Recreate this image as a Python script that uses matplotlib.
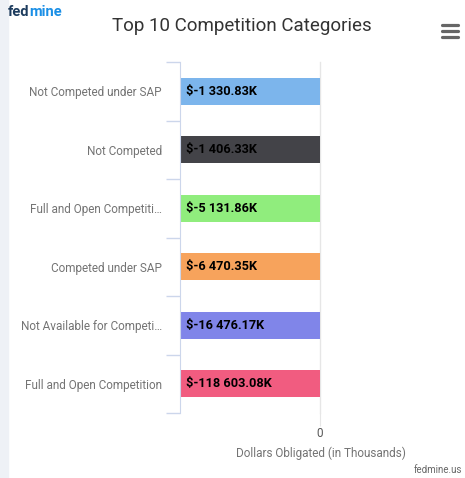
import numpy as np
import matplotlib.pyplot as plt
from matplotlib.patches import Rectangle
from matplotlib.transforms import offset_copy

plt.rcParams['font.family'] = ['Roboto', 'DejaVu Sans']

categories = ['Not Competed under SAP', 'Not Competed', 'Full and Open Competiti…',
              'Competed under SAP', 'Not Available for Competi…', 'Full and Open Competition']
values = [-1330.83, -1406.33, -5131.86, -6470.35, -16476.17, -118603.08]
labels = ['$-1 330.83K', '$-1 406.33K', '$-5 131.86K', '$-6 470.35K', '$-16 476.17K', '$-118 603.08K']
colors = ['#7cb5ec', '#434348', '#90ed7d', '#f7a35c', '#8085e9', '#f15c80']

fig = plt.figure(figsize=(4.65, 4.78), dpi=100)
fig.patches.append(Rectangle((0, 0), 8 / 465, 1, transform=fig.transFigure,
                             color='#eef1f6', zorder=0))

ax = fig.add_axes([180 / 465, 1 - 413 / 478, 140 / 465, 351 / 478])
y = np.arange(len(categories))
ax.barh(y, values, height=0.46, color=colors, zorder=2)
ax.set_xlim(-1000, 0)
ax.set_ylim(len(categories) - 0.5, -0.5)

for yi, lab in zip(y, labels):
    ax.text(0.045, yi, lab, transform=ax.get_yaxis_transform(), va='center', ha='left',
            fontsize=9.2, fontweight='bold', color='black', zorder=3)

ax.set_yticks(y)
ax.set_yticklabels(categories, fontsize=8.5, color='#747474')
ax.set_yticks(np.arange(-0.5, len(categories)), minor=True)
ax.tick_params(axis='y', which='major', length=0, pad=13)
ax.tick_params(axis='y', which='minor', length=10, color='#ccd6eb', width=1)

ax.set_xticks([0])
ax.set_xticklabels(['0'], fontsize=8.5, color='#555555')
ax.tick_params(axis='x', length=9, color='#e6e6e6', pad=1)
ax.axvline(0, color='#e6e6e6', lw=1, zorder=1, clip_on=False)
ax.set_xlabel('Dollars Obligated (in Thousands)', fontsize=8.5, color='#747474')
ax.xaxis.set_label_coords(1.01, -0.097)

for s in ['top', 'right', 'bottom']:
    ax.spines[s].set_visible(False)
ax.spines['left'].set_color('#ccd6eb')

fig.text(242 / 465, 1 - 26 / 478, 'Top 10 Competition Categories', ha='center', va='center',
         fontsize=13.5, color='#333333')

t1 = fig.text(8 / 465, 1 - 12 / 478, 'fed', ha='left', va='center', fontsize=10.5,
              fontweight='bold', color='#1d3c5e')
fig.canvas.draw()
w = t1.get_window_extent().width
fig.text(8 / 465, 1 - 12 / 478, 'mine', ha='left', va='center', fontsize=10.5,
         fontweight='bold', color='#1a8fe6',
         transform=offset_copy(fig.transFigure, fig=fig, x=w, y=0, units='dots'))

for yy in [25, 31, 37]:
    fig.add_artist(plt.Line2D([442 / 465, 458 / 465], [1 - yy / 478, 1 - yy / 478],
                              color='#666666', lw=2.3, solid_capstyle='round'))

fig.text(462 / 465, 1 - 470 / 478, 'fedmine.us', ha='right', va='center', fontsize=7,
         color='#666666')

fig.savefig('out.png', dpi=100)
